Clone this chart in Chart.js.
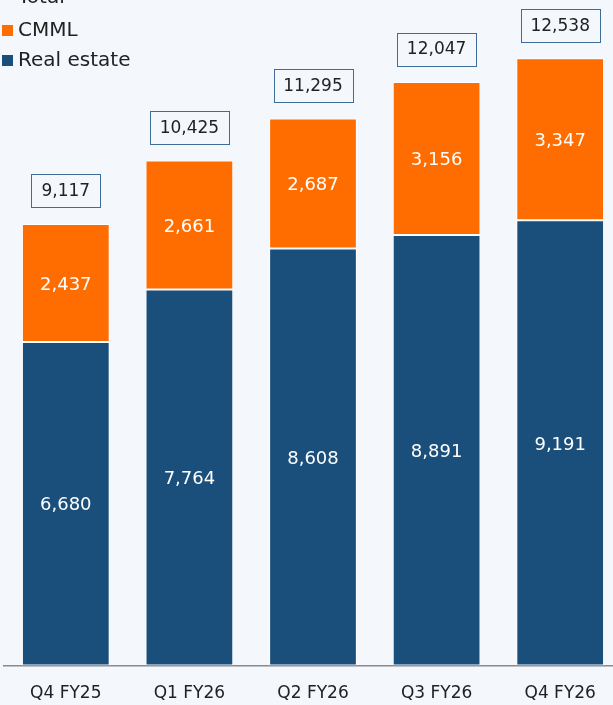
<!DOCTYPE html>
<html>
<head>
<meta charset="utf-8">
<script src="https://cdn.jsdelivr.net/npm/chart.js@4"></script>
<style>
  html, body { margin: 0; padding: 0; background: #f4f7fc; overflow: hidden; }
  #wrap { width: 613px; height: 705px; overflow: hidden; }
</style>
</head>
<body>
<div id="wrap"><canvas id="chart" width="622" height="722"></canvas></div>
<script>
const quarters = ['Q4 FY25', 'Q1 FY26', 'Q2 FY26', 'Q3 FY26', 'Q4 FY26'];
const realEstate = [6680, 7764, 8608, 8891, 9191];
const cmml = [2437, 2661, 2687, 3156, 3347];
const totals = [9117, 10425, 11295, 12047, 12538];

const NAVY = '#1a4e7b';
const ORANGE = '#ff6d00';
const FONT = '"DejaVu Sans", sans-serif';

const fmt = v => v.toLocaleString('en-US');

// white value labels inside bars, boxed totals on top, legend in the corner
const labelsPlugin = {
  id: 'labels',
  afterDatasetsDraw(chart) {
    const { ctx, scales: { x, y } } = chart;
    ctx.save();
    ctx.font = '18px ' + FONT;
    ctx.textAlign = 'center';
    ctx.textBaseline = 'middle';
    ctx.fillStyle = '#ffffff';
    chart.data.datasets.forEach((ds, di) => {
      chart.getDatasetMeta(di).data.forEach((bar, i) => {
        const mid = (bar.y + bar.base) / 2;
        ctx.fillText(fmt(ds.data[i]), bar.x, mid + 2);
      });
    });

    ctx.font = '17px ' + FONT;
    totals.forEach((t, i) => {
      const cx = x.getPixelForValue(i);
      const cy = y.getPixelForValue(t) - 33;
      const w = Math.round(ctx.measureText(fmt(t)).width + 20), h = 33;
      const left = Math.round(cx - w / 2), top = Math.round(cy - h / 2);
      ctx.fillStyle = '#f4f7fc';
      ctx.fillRect(left, top, w, h);
      ctx.strokeStyle = '#3f6c9a';
      ctx.lineWidth = 1;
      ctx.strokeRect(left + 0.5, top + 0.5, w, h);
      ctx.fillStyle = '#222222';
      ctx.fillText(fmt(t), cx, cy + 1);
    });

    // legend
    ctx.font = '20px ' + FONT;
    ctx.textAlign = 'left';
    ctx.fillStyle = '#222222';
    ctx.fillText('Total', 18, -2);
    const items = [['CMML', ORANGE, 30], ['Real estate', NAVY, 60]];
    items.forEach(([label, color, ly]) => {
      ctx.fillStyle = color;
      ctx.fillRect(2, ly - 5, 11, 11);
      ctx.fillStyle = '#222222';
      ctx.fillText(label, 18, ly + 1);
    });
    ctx.restore();
  }
};

new Chart(document.getElementById('chart'), {
  type: 'bar',
  data: {
    labels: quarters,
    datasets: [
      { label: 'Real estate', data: realEstate, backgroundColor: NAVY, borderColor: '#ffffff', borderWidth: 1, borderSkipped: false },
      { label: 'CMML', data: cmml, backgroundColor: ORANGE, borderColor: '#ffffff', borderWidth: 1, borderSkipped: false }
    ]
  },
  options: {
    responsive: false,
    animation: false,
    layout: { padding: { left: 4, right: 0, top: 0, bottom: 0 } },
    datasets: { bar: { categoryPercentage: 1, barPercentage: 0.71 } },
    plugins: { legend: { display: false }, tooltip: { enabled: false } },
    scales: {
      x: {
        stacked: true,
        grid: { display: false, drawTicks: false },
        border: { display: true, color: '#8a8a8a', width: 1.5 },
        ticks: { color: '#222222', font: { family: FONT, size: 17 }, padding: 18 }
      },
      y: {
        stacked: true,
        display: false,
        min: 0,
        max: 13740
      }
    }
  },
  plugins: [labelsPlugin]
});
</script>
</body>
</html>
